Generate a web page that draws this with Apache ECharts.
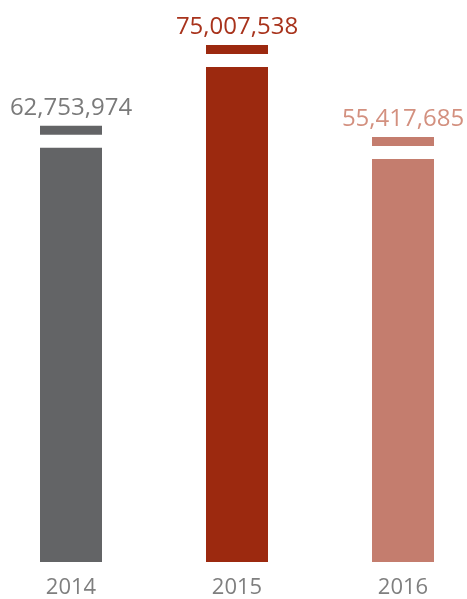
<!DOCTYPE html>
<html>
<head>
<meta charset="utf-8">
<script src="https://cdn.jsdelivr.net/npm/echarts@6/dist/echarts.min.js"></script>
<style>
html, body { margin: 0; padding: 0; background: #fff; }
#chart { width: 467px; height: 599px; }
</style>
</head>
<body>
<div id="chart"></div>
<script>
// 数据
var years = ["2014", "2015", "2016"];
var totals = [62753974, 75007538, 55417685];       // label text
var barHeights = [62753974, 75007538, 61070000];   // main bar height as drawn
var gapSize = 1970000;   // white gap under the cap
var capSize = 1360000;   // thin cap bar

var barColors = ["#636466", "#9c290f", "#c47d6e"];
var labelColors = ["#7a7a7a", "#a8331c", "#d3907f"];

var gapData = years.map(function () { return gapSize; });
var capData = years.map(function (y, i) {
    return { value: capSize, label: { color: labelColors[i] } };
});
var yMax = Math.max.apply(null, barHeights) + gapSize + capSize;

var barColor = function (p) { return barColors[p.dataIndex]; };

var option = {
    animation: false,
    grid: { left: 71, right: 64, top: 45, bottom: 37 },
    xAxis: {
        type: "category",
        data: years,
        boundaryGap: false,
        axisLine: { show: false },
        axisTick: { show: false },
        splitLine: { show: false },
        axisLabel: {
            color: "#7f7f7f",
            fontSize: 22,
            fontFamily: "Open Sans",
            margin: 15
        }
    },
    yAxis: {
        type: "value",
        min: 0,
        max: yMax,
        show: false
    },
    series: [{
        name: "main",
        type: "bar",
        stack: "t",
        clip: false,
        barWidth: 62,
        data: barHeights,
        itemStyle: { color: barColor }
    }, {
        name: "gap",
        type: "bar",
        stack: "t",
        clip: false,
        barWidth: 62,
        data: gapData,
        itemStyle: { color: "rgba(0,0,0,0)" }
    }, {
        name: "cap",
        type: "bar",
        stack: "t",
        clip: false,
        barWidth: 62,
        data: capData,
        itemStyle: { color: barColor },
        label: {
            show: true,
            position: "top",
            distance: 6,
            fontSize: 24,
            fontFamily: "Open Sans",
            formatter: function (p) {
                return totals[p.dataIndex].toLocaleString("en-US");
            }
        }
    }]
};

var myChart = echarts.init(document.getElementById("chart"));
myChart.setOption(option);
</script>
</body>
</html>
